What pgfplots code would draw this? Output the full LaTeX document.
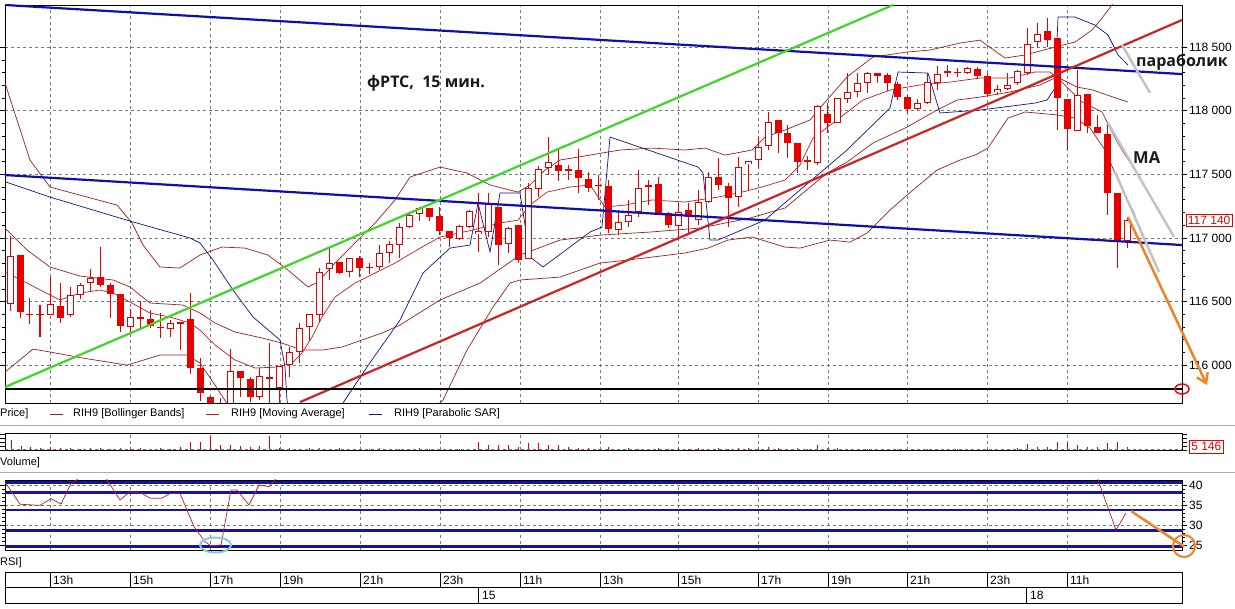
\documentclass[border=0pt]{standalone}
\usepackage{pgfplots}
\pgfplotsset{compat=1.18}
\usepackage{pgfplotstable}
\usepackage{fontspec}
\setmainfont{Liberation Sans}
\newfontfamily\annfont{Open Sans}
\usetikzlibrary{arrows.meta}

\definecolor{candle}{RGB}{232,0,0}
\definecolor{bbred}{RGB}{160,30,30}
\definecolor{mared}{RGB}{195,30,30}
\definecolor{sarblue}{RGB}{20,20,140}
\definecolor{trendblue}{RGB}{15,15,170}
\definecolor{trendgreen}{RGB}{60,215,40}
\definecolor{trendred}{RGB}{205,35,35}
\definecolor{annogray}{RGB}{195,195,195}
\definecolor{annoorange}{RGB}{240,130,40}
\definecolor{annocyan}{RGB}{135,200,225}
\definecolor{gridgray}{RGB}{120,120,120}
\definecolor{sepgray}{RGB}{170,170,170}
\definecolor{labred}{RGB}{150,30,30}
\definecolor{rsiblue}{RGB}{20,20,160}

\pgfplotstableread{
x o h l c v
11 116480 117015 116425 116857 15000
21 116865 116865 116370 116417 6000
30 116405 116527 116323 116397 4500
40 116405 116472 116220 116397 3000
50 116393 116692 116393 116480 4500
60 116464 116645 116331 116370 3000
70 116393 116614 116378 116551 3000
80 116551 116645 116519 116629 1500
90 116645 116755 116574 116684 3000
100 116692 116928 116614 116629 3000
110 116629 116645 116370 116558 1500
120 116558 116558 116260 116307 3000
130 116299 116441 116260 116378 1500
140 116378 116503 116291 116362 3000
150 116362 116433 116291 116307 1500
160 116303 116409 116213 116295 3000
170 116283 116354 116220 116331 1500
180 116338 116338 116118 116331 4500
190 116362 116566 115930 115977 12000
200 115977 116055 115720 115780 12000
210 115749 115760 115650 115690 21000
220 115690 115741 115600 115680 7500
230 115690 116126 115650 115953 7500
240 115953 115953 115749 115898 6000
250 115890 115906 115709 115749 4500
259 115749 115977 115725 115914 6000
269 115906 116173 115702 115898 21000
279 115820 115992 115702 115992 3000
289 116000 116142 115906 116103 3000
299 116103 116331 116016 116291 1500
309 116299 116401 116189 116401 3000
319 116393 116763 116338 116731 3000
329 116755 116928 116669 116802 1500
339 116810 116810 116716 116724 3000
349 116731 116842 116692 116842 1500
359 116842 116857 116692 116763 1500
369 116775 116802 116716 116767 1500
379 116771 116944 116747 116881 3000
389 116881 116975 116802 116952 1500
399 116944 117117 116842 117085 1500
409 117085 117203 117077 117180 1500
419 117188 117243 117132 117235 3000
429 117235 117235 117132 117164 1500
439 117172 117243 117022 117054 1500
449 117054 117054 116928 116999 1500
459 116991 117101 116983 117093 1500
469 117085 117219 117077 117211 1500
478 117030 117353 116889 117054 12000
488 117046 117353 117007 117266 7500
498 117243 117243 116787 116944 7500
508 116952 117085 116881 117077 7500
518 117101 117101 116802 116826 4500
528 116834 117431 116834 117392 10500
538 117384 117565 117321 117541 10500
548 117549 117793 117494 117596 7500
558 117573 117706 117447 117526 7500
568 117541 117573 117455 117526 4500
578 117533 117699 117353 117471 3000
588 117463 117518 117360 117392 3000
598 117420 117494 117298 117412 1500
608 117408 117455 117038 117070 4500
618 117062 117219 117022 117125 1500
628 117125 117298 117085 117180 3000
638 117203 117533 117164 117392 1500
648 117400 117455 117258 117416 1500
658 117423 117478 117195 117195 3000
668 117195 117203 117077 117101 1500
678 117093 117274 116983 117203 3000
688 117219 117274 117038 117164 1500
698 117140 117376 117101 117282 3000
708 117282 117518 117274 117478 1500
718 117478 117628 117376 117416 3000
728 117408 117431 117085 117313 1500
738 117321 117636 117243 117557 3000
748 117581 117604 117376 117604 3000
758 117612 117793 117549 117714 1500
768 117722 117990 117691 117911 4500
778 117927 117927 117667 117824 3000
787 117824 117887 117628 117746 1500
797 117746 117746 117510 117596 3000
807 117612 117643 117533 117596 1500
817 117588 118044 117573 118037 7500
827 117974 118060 117824 117903 3000
837 117903 118100 117903 118100 3000
847 118092 118296 118060 118147 1500
857 118147 118296 118107 118217 1500
867 118217 118304 118139 118296 1500
877 118296 118296 118217 118272 1500
887 118280 118296 118155 118217 750
897 118210 118225 118084 118107 1500
907 118107 118123 117982 118013 750
917 118013 118092 118005 118060 1500
927 118060 118296 118052 118225 1500
937 118217 118351 118162 118288 750
947 118296 118359 118265 118312 750
957 118308 118335 118265 118300 1500
967 118296 118343 118288 118335 750
977 118327 118343 118249 118272 1500
987 118272 118296 118107 118131 1500
997 118147 118202 118123 118170 1500
1007 118170 118296 118162 118202 1500
1017 118217 118320 118202 118312 3000
1027 118296 118650 118280 118524 9000
1037 118540 118689 118500 118603 4500
1047 118626 118728 118500 118555 4500
1057 118571 118571 117848 118100 12000
1067 118092 118092 117691 117856 10500
1077 117840 118320 117840 118123 7500
1087 118131 118131 117824 117879 4500
1097 117871 117966 117824 117824 4500
1107 117816 117903 117180 117353 10500
1117 117353 117353 116763 116975 12000
1127 116975 117164 116920 117140 5146
}\candles

\pgfplotsset{
  panel/.style={scale only axis, anchor=north west, width=1177pt, xmin=5, xmax=1182,
    axis line style={black, line width=0.8pt},
    xtick={50,130,210,280,360,440,520,600,678,758,828,907,987,1067},
    xticklabels={}, xtick style={draw=none},
    tick align=outside, ytick pos=both, yticklabel pos=right,
    tick style={black, line width=0.5pt},
    major tick length=5pt, minor tick length=3pt,
    grid=major, major grid style={dash pattern=on 3pt off 3pt, gridgray, line width=0.5pt},
    yticklabel style={font=\fontsize{12}{12}\selectfont, inner xsep=2pt},
    scaled y ticks=false,
    /pgf/number format/assume math mode=true,
  },
  overl/.style={scale only axis, anchor=north west, width=1177pt, xmin=5, xmax=1182, hide axis, clip=false},
}
\tikzset{
  ann/.style={font=\annfont\bfseries\fontsize{16}{16}\selectfont, text=black!90, inner sep=0pt, anchor=west},
  tlab/.style={font=\fontsize{12}{12}\selectfont, anchor=west, inner sep=0pt},
  leg/.style={font=\fontsize{11}{11}\selectfont, anchor=west, inner sep=0pt},
}

\begin{document}
\begin{tikzpicture}
\useasboundingbox (0pt,0pt) rectangle (1235pt,-609pt);
\fill[white] (0pt,0pt) rectangle (1235pt,-609pt);

% ---------------- main price panel ----------------
\begin{axis}[panel, at={(5pt,-5pt)}, height=398pt,
  ymin=115702, ymax=118831,
  ytick={116000,116500,117000,117500,118000,118500}, minor y tick num=4,
  yticklabel style={/pgf/number format/fixed, /pgf/number format/precision=0, /pgf/number format/1000 sep={\ }}]
% Bollinger upper
\addplot[bbred, line width=0.7pt] coordinates {(5,118217)(30,117612)(50,117400)(87,117321)(117,117258)(132,117117)(143,116944)(160,116771)(180,116763)(200,116865)(222,116928)(245,116920)(268,116865)(288,116747)(308,116614)(318,116653)(335,116802)(355,116960)(375,117117)(395,117298)(410,117478)(440,117557)(467,117510)(490,117416)(518,117360)(530,117416)(545,117533)(560,117612)(590,117651)(620,117691)(652,117706)(685,117691)(705,117706)(725,117651)(752,117691)(765,117793)(785,117848)(810,117927)(820,118021)(847,118265)(873,118422)(907,118461)(930,118477)(960,118532)(980,118555)(1005,118414)(1025,118438)(1055,118500)(1075,118540)(1092,118634)(1102,118728)(1112,118831)(1120,118949)};
% Bollinger middle
\addplot[bbred, line width=0.7pt] coordinates {(5,117077)(27,116905)(50,116771)(80,116700)(113,116669)(130,116614)(150,116488)(183,116472)(200,116409)(215,116331)(235,116260)(262,116213)(282,116173)(302,116118)(322,116118)(342,116142)(362,116197)(382,116252)(400,116315)(440,116512)(480,116645)(520,116865)(560,116983)(600,117022)(650,117046)(700,117077)(750,117156)(785,117235)(827,117510)(847,117596)(873,117746)(907,117871)(937,118005)(957,118084)(980,118107)(1010,118147)(1040,118202)(1057,118265)(1077,118186)(1093,118162)(1113,118107)(1128,118068)};
% Bollinger lower
\addplot[bbred, line width=0.7pt] coordinates {(5,115945)(33,116126)(50,116103)(83,116055)(127,116000)(160,116079)(187,116079)(200,116016)(215,115843)(228,115686)(300,115411)(400,115411)(443,115725)(467,116118)(493,116456)(510,116645)(520,116669)(560,116692)(600,116802)(628,116826)(685,116881)(708,116920)(728,116983)(752,117007)(785,116928)(800,116920)(830,116983)(850,116967)(867,117038)(890,117219)(913,117376)(937,117533)(960,117612)(975,117651)(988,117706)(1008,117942)(1025,117990)(1058,117966)(1075,117942)(1090,117864)(1105,117691)(1120,117416)(1135,117180)};
% Moving average
\addplot[mared, line width=0.7pt] coordinates {(5,116731)(27,116645)(50,116551)(60,116512)(80,116566)(100,116590)(113,116566)(130,116496)(150,116409)(170,116378)(190,116331)(200,116275)(215,116158)(235,116040)(255,115977)(278,115985)(292,116016)(302,116095)(312,116220)(322,116378)(335,116535)(355,116645)(375,116724)(395,116802)(417,116905)(440,117007)(473,117062)(500,117117)(518,117140)(530,117258)(547,117360)(570,117400)(590,117416)(605,117243)(625,117258)(652,117298)(685,117282)(718,117321)(742,117360)(762,117400)(785,117455)(800,117573)(813,117785)(837,117927)(863,118084)(890,118162)(920,118202)(950,118225)(980,118257)(1010,118257)(1035,118304)(1050,118304)(1062,118225)(1082,118068)(1102,117990)(1115,117785)(1125,117651)(1132,117573)};
% Parabolic SAR
\addplot[sarblue, line width=0.7pt] coordinates {(6,117439)(50,117321)(130,117132)(190,116999)(200,116960)(213,116826)(233,116590)(253,116378)(280,116197)(285,115985)(287,115725)(290,115568)(335,115568)(343,115702)(367,115985)(400,116354)(423,116724)(450,116920)(470,116944)(478,117274)(490,116889)(500,117353)(520,117353)(530,116850)(543,116771)(590,117046)(602,117085)(610,117793)(698,117557)(703,117510)(710,116983)(718,116983)(765,117140)(780,117243)(820,117510)(847,117691)(890,118021)(898,118304)(928,118296)(940,117982)(980,118005)(1035,118060)(1047,118084)(1055,118178)(1058,118736)(1075,118736)(1095,118673)(1108,118595)(1118,118438)(1128,118359)};
% candles: wicks, bodies, hollow interiors
\addplot[draw=none, mark=none, error bars/.cd, y dir=both, y explicit, error mark=none,
  error bar style={draw=candle, line width=1pt}]
  table[x=x, y expr={(\thisrow{h}+\thisrow{l})/2}, y error expr={(\thisrow{h}-\thisrow{l})/2}] {\candles};
\addplot[draw=none, mark=none, error bars/.cd, y dir=both, y explicit, error mark=none,
  error bar style={draw=candle, line width=7pt}]
  table[x=x, y expr={(\thisrow{o}+\thisrow{c})/2}, y error expr={abs(\thisrow{c}-\thisrow{o})/2}] {\candles};
\addplot[draw=none, mark=none, error bars/.cd, y dir=both, y explicit, error mark=none,
  error bar style={draw=white, line width=5pt}]
  table[x=x, y expr={(\thisrow{o}+\thisrow{c})/2}, y error expr={max(\thisrow{c}-\thisrow{o}-16,0)/2}] {\candles};
% trend lines
\addplot[trendblue, line width=2.2pt] coordinates {(5,118831)(1182,118288)};
\addplot[trendblue, line width=2.2pt] coordinates {(5,117494)(1182,116944)};
\addplot[trendgreen, line width=2.2pt] coordinates {(5,115827)(893,118831)};
\addplot[trendred, line width=2.2pt] coordinates {(300,115709)(1182,118713)};
\addplot[black, line width=1.8pt] coordinates {(5,115812)(1182,115812)};
% gray annotation lines
\addplot[annogray, line width=2.5pt] coordinates {(1122,118516)(1150,118139)};
\addplot[annogray, line width=2.5pt] coordinates {(1108,117903)(1174,117007)};
\addplot[annogray, line width=2.5pt] coordinates {(1115,117518)(1159,116731)};
\end{axis}

\begin{axis}[overl, at={(5pt,-5pt)}, height=398pt, ymin=115702, ymax=118831]
\addplot[annoorange, line width=2.5pt, -{Straight Barb[length=9pt, width=12pt]}] coordinates {(1128,117164)(1207,115843)};
\draw[red, line width=1.5pt] (axis cs:1182,115812) ellipse [x radius=7pt, y radius=5pt];
\node[ann] at (axis cs:367,118217) {фРТС,\ \ 15 мин.};
\node[ann] at (axis cs:1136,118383) {параболик};
\node[ann, font=\annfont\bfseries\fontsize{16.5}{16.5}\selectfont] at (axis cs:1133,117628) {MA};
\node[draw=candle, line width=0.6pt, text=labred, anchor=west, inner sep=1.6pt, font=\fontsize{12}{12}\selectfont] at (axis cs:1186,117140) {117 140};
\end{axis}

% ---------------- legend strip ----------------
\node[leg] at (0pt,-414pt) {Price]};
\draw[bbred, line width=0.8pt] (50pt,-414pt) -- (63pt,-414pt);
\node[leg] at (73pt,-414pt) {RIH9 [Bollinger Bands]};
\draw[mared, line width=0.8pt] (206pt,-414pt) -- (219pt,-414pt);
\node[leg] at (231pt,-414pt) {RIH9 [Moving Average]};
\draw[sarblue, line width=0.8pt] (369pt,-414pt) -- (382pt,-414pt);
\node[leg] at (394pt,-414pt) {RIH9 [Parabolic SAR]};
\draw[sepgray, line width=1pt] (0pt,-426pt) -- (1235pt,-426pt);
\node[leg] at (0pt,-463pt) {Volume]};
\draw[sepgray, line width=1pt] (0pt,-473pt) -- (1235pt,-473pt);
\node[leg] at (0pt,-563pt) {RSI]};

% ---------------- volume panel ----------------
\begin{axis}[panel, at={(5pt,-433pt)}, height=17pt, ymin=0, ymax=25500,
  ytick={0,6000,12000,18000,24000}, yticklabels={}, minor y tick num=0, ymajorgrids=false, clip=false]
\addplot[ycomb, candle, line width=0.9pt, mark=none] table[x=x, y=v] {\candles};
\addplot[gridgray, dash pattern=on 3pt off 3pt, line width=0.5pt] coordinates {(5,800)(1182,800)};
\node[draw=candle, line width=0.6pt, text=candle, anchor=west, inner sep=2pt, font=\fontsize{12}{12}\selectfont] at (axis cs:1189,5146) {5 146};
\end{axis}

% ---------------- RSI panel ----------------
\begin{axis}[panel, at={(5pt,-480pt)}, height=70pt, ymin=23.75, ymax=41.25,
  ytick={25,30,35,40}, minor y tick num=4]
\addplot[rsiblue, line width=2.4pt] coordinates {(5,40.6)(1182,40.6)};
\addplot[rsiblue, line width=2.4pt] coordinates {(5,38.1)(1182,38.1)};
\addplot[rsiblue, line width=2.4pt] coordinates {(5,33.75)(1182,33.75)};
\addplot[rsiblue, line width=2.4pt] coordinates {(5,28.6)(1182,28.6)};
\addplot[rsiblue, line width=2.4pt] coordinates {(5,24.6)(1182,24.6)};
\addplot[mared, line width=0.7pt] coordinates {(6,40.4)(20,35.2)(40,34.9)(51,36.6)(61,35.25)(71,40.4)(77,41.3)(85,44)(100,44)(107,41.3)(120,36.25)(130,38.3)(142,37.9)(150,36.7)(162,36.7)(170,37.9)(180,37.9)(194,29.6)(205,25.8)(211,24.8)(221,25)(231,38.75)(237,38.75)(249,35)(259,40)(269,39.6)(275,41.3)(285,45)(320,52)(400,55)(500,58)(600,56)(700,60)(800,62)(900,64)(1000,66)(1050,60)(1090,46)(1098,41.3)(1116,28.75)(1126,33)};
\end{axis}
\begin{axis}[overl, at={(5pt,-480pt)}, height=70pt, ymin=23.75, ymax=41.25]
\draw[annocyan, line width=2pt] (axis cs:215.5,25) ellipse [x radius=15.5pt, y radius=7.5pt];
\addplot[annoorange, line width=2.5pt] coordinates {(1131,33.5)(1184,24.6)};
\draw[annoorange, line width=2pt] (axis cs:1184,24.75) circle [radius=11pt];
\end{axis}

% ---------------- time axis ----------------
\begin{axis}[scale only axis, anchor=north west, at={(5pt,-572pt)}, width=1177pt, height=31pt,
  xmin=5, xmax=1182, ymin=0, ymax=2, xtick=\empty, ytick=\empty, clip=false,
  axis line style={black, line width=0.8pt}]
\draw[black, line width=0.8pt] (axis cs:5,1) -- (axis cs:1182,1);
\pgfplotsinvokeforeach{50,130,210,280,360,440,520,600,678,758,828,907,987,1067}{
  \draw[black, line width=0.8pt] (axis cs:#1,1) -- (axis cs:#1,2);}
\draw[black, line width=0.8pt] (axis cs:478,0) -- (axis cs:478,1);
\draw[black, line width=0.8pt] (axis cs:1026,0) -- (axis cs:1026,1);
\node[tlab] at (axis cs:53,1.5) {13h};
\node[tlab] at (axis cs:133,1.5) {15h};
\node[tlab] at (axis cs:213,1.5) {17h};
\node[tlab] at (axis cs:283,1.5) {19h};
\node[tlab] at (axis cs:363,1.5) {21h};
\node[tlab] at (axis cs:443,1.5) {23h};
\node[tlab] at (axis cs:523,1.5) {11h};
\node[tlab] at (axis cs:603,1.5) {13h};
\node[tlab] at (axis cs:681,1.5) {15h};
\node[tlab] at (axis cs:761,1.5) {17h};
\node[tlab] at (axis cs:831,1.5) {19h};
\node[tlab] at (axis cs:910,1.5) {21h};
\node[tlab] at (axis cs:990,1.5) {23h};
\node[tlab] at (axis cs:1070,1.5) {11h};
\node[tlab] at (axis cs:482,0.5) {15};
\node[tlab] at (axis cs:1030,0.5) {18};
\end{axis}
\end{tikzpicture}
\end{document}
